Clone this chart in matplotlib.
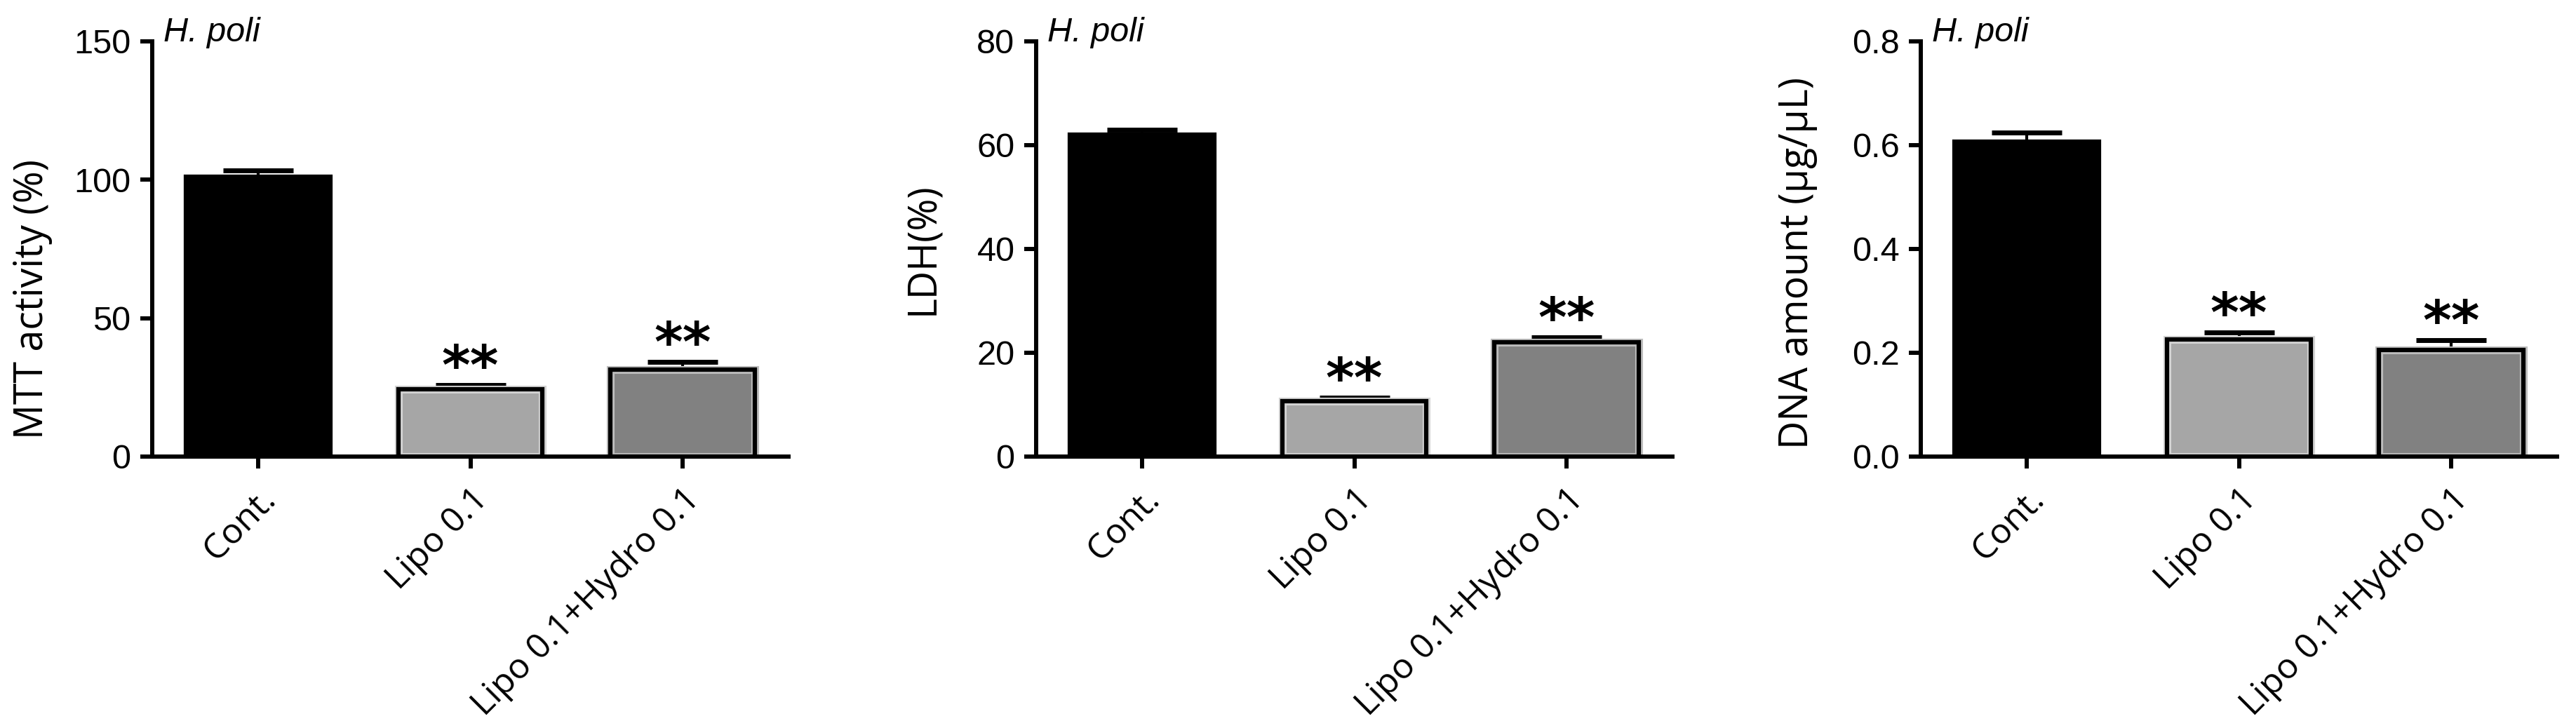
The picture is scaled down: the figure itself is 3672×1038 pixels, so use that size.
import matplotlib
matplotlib.use("Agg")
import matplotlib.pyplot as plt
import numpy as np

# values
groups = ["Cont.", "Lipo 0.1", "Lipo 0.1+Hydro 0.1"]
bar_colors = ["#000000", "#a6a6a6", "#818181"]
rim_colors = ["none", "#d4d4d4", "#bdbdbd"]

mtt_mean = [101.0, 24.3, 31.3]
mtt_err = [2.3, 1.5, 3.0]

ldh_mean = [62.0, 10.7, 22.0]
ldh_err = [1.0, 0.7, 1.0]

dna_mean = [0.607, 0.226, 0.205]
dna_err = [0.018, 0.013, 0.020]

stars = ["", "**", "**"]

panels = [
    ("MTT activity (%)", mtt_mean, mtt_err, [0, 50, 100, 150], "{:.0f}", (-0.157, 0.38)),
    ("LDH(%)", ldh_mean, ldh_err, [0, 20, 40, 60, 80], "{:.0f}", (-0.145, 0.50)),
    ("DNA amount (\u00b5g/\u00b5L)", dna_mean, dna_err, [0.0, 0.2, 0.4, 0.6, 0.8], "{:.1f}", (-0.162, 0.466)),
]

NUM = ["Liberation Sans", "DejaVu Sans"]
HUMAN = ["Open Sans", "DejaVu Sans"]

W, H = 3672, 1038
fig = plt.figure(figsize=(W / 100, H / 100), dpi=100)

lefts = [217, 1477, 2738]
ax_w = 907
y0, y1 = 651, 59

x = np.arange(len(groups))

for left, (ylab, mean, err, yticks, fmt, lab_xy) in zip(lefts, panels):
    ax = fig.add_axes([left / W, (H - y0) / H, ax_w / W, (y0 - y1) / H])

    # light inner rim of the grey bars, then the black outline
    ax.bar(x, mean, width=0.68, color=bar_colors, edgecolor=rim_colors, linewidth=8, zorder=2)
    ax.bar(x, mean, width=0.68, facecolor="none", edgecolor="black", linewidth=4.5, zorder=3)

    ax.errorbar(x, mean, yerr=[np.zeros(len(mean)), err], fmt="none", ecolor="black",
                elinewidth=3, capsize=36, capthick=5, zorder=1)

    for xi, m, e, s in zip(x, mean, err, stars):
        if s:
            ax.annotate(s, (xi, m + e), xytext=(0, -11), textcoords="offset points",
                        ha="center", va="bottom", fontsize=56, fontweight="bold",
                        family=["DejaVu Sans"])

    ax.set_xlim(-0.5, 2.5)
    ax.set_ylim(yticks[0], yticks[-1])
    ax.set_yticks(yticks)
    ax.set_yticklabels([fmt.format(t) for t in yticks], family=NUM, fontsize=35)
    ax.set_xticks(x)
    ax.set_xticklabels(groups, rotation=45, ha="right", rotation_mode="anchor",
                       family=HUMAN, fontsize=36)

    for side in ["top", "right"]:
        ax.spines[side].set_visible(False)
    for side in ["left", "bottom"]:
        ax.spines[side].set_linewidth(4.3)
    ax.tick_params(axis="both", direction="out", length=12, width=4.3)
    ax.tick_params(axis="y", pad=10)
    ax.tick_params(axis="x", pad=14)

    ax.set_ylabel(ylab, family=HUMAN, fontsize=40)
    ax.yaxis.set_label_coords(*lab_xy)

    ax.text(0.018, yticks[-1], "H. poli", transform=ax.get_yaxis_transform(),
            ha="left", va="baseline", style="italic", family=NUM, fontsize=35)

fig.savefig("out.png", dpi=100)
